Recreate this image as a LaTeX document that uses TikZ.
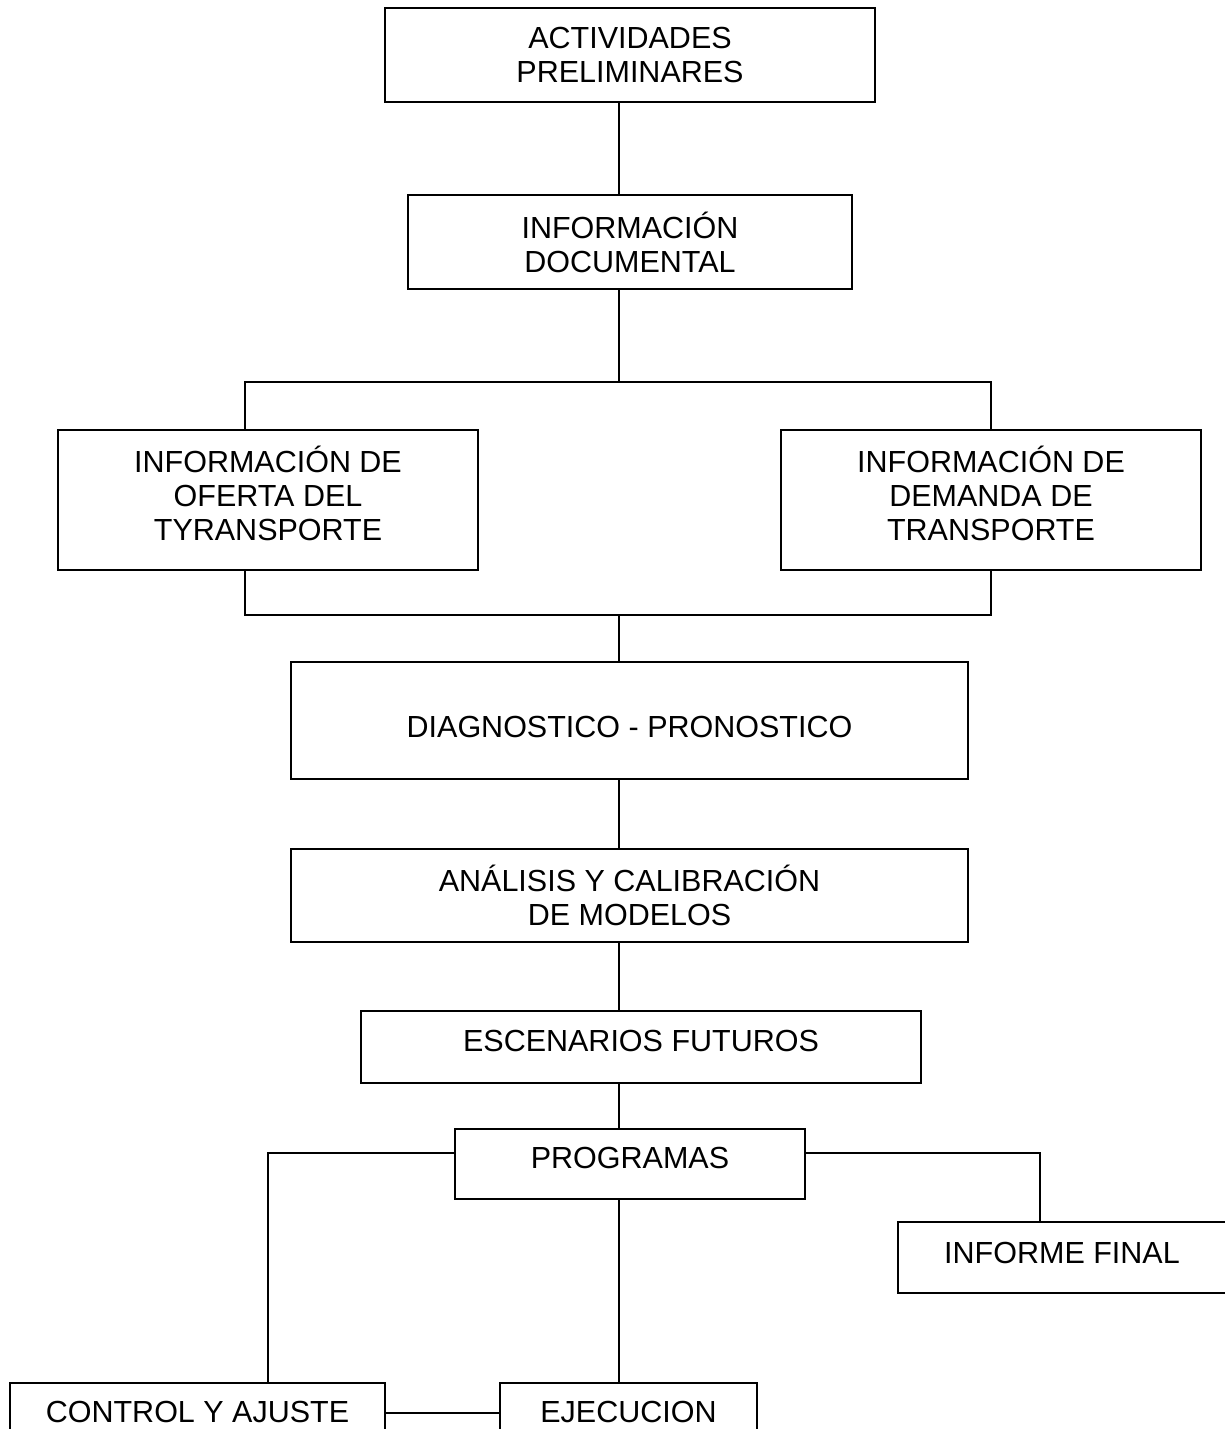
\documentclass[tikz,border=0pt]{standalone}
\usepackage{fontspec}
\setmainfont{Liberation Sans}
\begin{document}
\begin{tikzpicture}[x=1pt,y=-1pt,
  box/.style={draw,line width=1.6pt,rectangle,align=center,inner sep=0pt,
    font=\fontsize{30.5}{34}\selectfont},
  conn/.style={line width=1.6pt}]
\useasboundingbox (0,0) rectangle (1224,1429);
% boxes
\node[box,minimum width=490pt,minimum height=94pt] (act) at (630,55) {ACTIVIDADES\\PRELIMINARES};
\node[box,minimum width=444pt,minimum height=94pt] (doc) at (630,242) {INFORMACIÓN\\DOCUMENTAL};
\node[box,minimum width=420pt,minimum height=140pt,text depth=14pt] (ofe) at (268,500) {INFORMACIÓN DE\\OFERTA DEL\\TYRANSPORTE};
\node[box,minimum width=420pt,minimum height=140pt,text depth=14pt] (dem) at (991,500) {INFORMACIÓN DE\\DEMANDA DE\\TRANSPORTE};
\node[box,minimum width=677pt,minimum height=117pt,text height=34pt] (diag) at (629.5,720.5) {DIAGNOSTICO - PRONOSTICO};
\node[box,minimum width=677pt,minimum height=93pt] (ana) at (629.5,895.5) {ANÁLISIS Y CALIBRACIÓN\\DE MODELOS};
\node[box,minimum width=560pt,minimum height=72pt,text depth=12pt] (esc) at (641,1047) {ESCENARIOS FUTUROS};
\node[box,minimum width=350pt,minimum height=70pt,text depth=12pt] (prog) at (630,1164) {PROGRAMAS};
\node[box,minimum width=328pt,minimum height=71pt,text depth=10pt] (inf) at (1062,1257.5) {INFORME FINAL};
\node[box,minimum width=375pt,minimum height=70pt,text depth=12pt] (ctrl) at (197.5,1418) {CONTROL Y AJUSTE};
\node[box,minimum width=257pt,minimum height=70pt,text depth=12pt] (eje) at (628.5,1418) {EJECUCION};
% helper coordinates
\coordinate (spine) at (619,0);
\coordinate (bartop) at (0,382);
\coordinate (barbot) at (0,615);
\coordinate (ocol) at (245,0);
\coordinate (progside) at (0,1153);
\coordinate (lcol) at (268,0);
\coordinate (rcol) at (1040,0);
\coordinate (cj) at (0,1413);
% connectors
\draw[conn] (act.south -| spine) -- (doc.north -| spine);
\draw[conn] (doc.south -| spine) -- (spine |- bartop);
\draw[conn] (ofe.north -| ocol) -- (ocol |- bartop) -- (dem.north |- bartop) -- (dem.north);
\draw[conn] (ofe.south -| ocol) -- (ocol |- barbot) -- (dem.south |- barbot) -- (dem.south);
\draw[conn] (spine |- barbot) -- (diag.north -| spine);
\draw[conn] (diag.south -| spine) -- (ana.north -| spine);
\draw[conn] (ana.south -| spine) -- (esc.north -| spine);
\draw[conn] (esc.south -| spine) -- (prog.north -| spine);
\draw[conn] (prog.south -| spine) -- (eje.north -| spine);
\draw[conn] (prog.west |- progside) -- (lcol |- progside) -- (ctrl.north -| lcol);
\draw[conn] (prog.east |- progside) -- (rcol |- progside) -- (inf.north -| rcol);
\draw[conn] (ctrl.east |- cj) -- (eje.west |- cj);
\end{tikzpicture}
\end{document}
